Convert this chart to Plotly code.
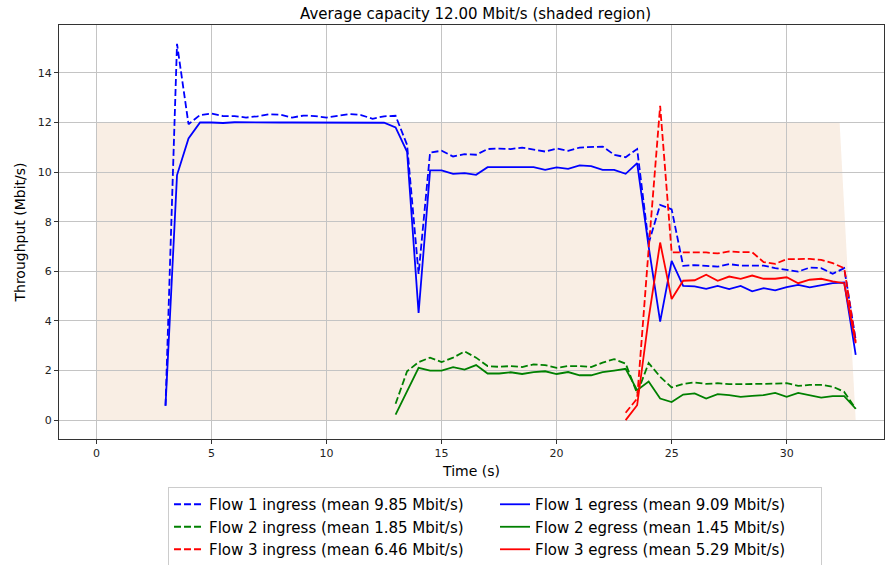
import plotly.graph_objects as go

# ---------------- data ----------------
f1_t = [3.0 + 0.5 * i for i in range(61)]
f1_in = [0.58, 15.17, 11.93, 12.30, 12.36, 12.26, 12.26, 12.20, 12.25, 12.33,
         12.31, 12.20, 12.28, 12.26, 12.20, 12.27, 12.34, 12.30, 12.15, 12.25,
         12.27, 11.10, 5.90, 10.79, 10.86, 10.63, 10.72, 10.70, 10.93, 10.95,
         10.93, 10.99, 10.90, 10.83, 10.95, 10.86, 10.99, 11.02, 11.03, 10.70,
         10.60, 10.93, 7.13, 8.68, 8.50, 6.22, 6.25, 6.22, 6.19, 6.29,
         6.23, 6.23, 6.23, 6.13, 6.06, 5.99, 6.15, 6.13, 5.90, 6.13,
         3.24]
f1_eg = [0.58, 9.88, 11.36, 12.00, 12.00, 11.98, 12.01, 12.00, 12.00, 12.00,
         12.00, 12.00, 12.00, 12.00, 12.00, 12.00, 12.00, 12.00, 12.00, 11.99,
         11.80, 10.82, 4.32, 10.07, 10.07, 9.93, 9.96, 9.89, 10.20, 10.19,
         10.19, 10.20, 10.20, 10.09, 10.19, 10.13, 10.27, 10.24, 10.09, 10.09,
         9.93, 10.36, 7.00, 3.97, 6.42, 5.41, 5.39, 5.29, 5.41, 5.28,
         5.41, 5.19, 5.32, 5.23, 5.36, 5.45, 5.35, 5.45, 5.52, 5.55,
         2.63]

f2_t = [13.0 + 0.5 * i for i in range(41)]
f2_in = [0.66, 1.97, 2.34, 2.52, 2.34, 2.52, 2.77, 2.52, 2.18, 2.15,
         2.18, 2.14, 2.25, 2.22, 2.11, 2.18, 2.18, 2.14, 2.32, 2.46,
         2.28, 1.08, 2.30, 1.75, 1.32, 1.46, 1.52, 1.46, 1.49, 1.45,
         1.45, 1.45, 1.47, 1.47, 1.49, 1.38, 1.42, 1.42, 1.35, 1.14,
         0.46]
f2_eg = [0.22, 1.14, 2.11, 2.00, 2.00, 2.14, 2.04, 2.22, 1.88, 1.88,
         1.93, 1.86, 1.94, 1.97, 1.86, 1.94, 1.81, 1.81, 1.94, 2.00,
         2.07, 1.21, 1.56, 0.87, 0.73, 1.03, 1.08, 0.87, 1.05, 1.01,
         0.94, 0.98, 1.01, 1.10, 0.94, 1.10, 1.01, 0.91, 0.97, 0.97,
         0.46]

f3_t = [23.0 + 0.5 * i for i in range(21)]
f3_in = [0.30, 0.87, 6.90, 12.67, 6.76, 6.76, 6.77, 6.76, 6.72, 6.80,
         6.77, 6.77, 6.37, 6.30, 6.49, 6.49, 6.50, 6.46, 6.33, 6.13,
         3.17]
f3_eg = [0.00, 0.60, 4.10, 7.16, 4.88, 5.62, 5.64, 5.86, 5.62, 5.79,
         5.70, 5.83, 5.70, 5.70, 5.76, 5.52, 5.66, 5.70, 5.59, 5.52,
         3.10]

cap_t = [0.0, 32.3, 33.0]
cap_v = [12.0, 12.0, 0.0]

names_in = ["Flow 1 ingress (mean 9.85 Mbit/s)",
            "Flow 2 ingress (mean 1.85 Mbit/s)",
            "Flow 3 ingress (mean 6.46 Mbit/s)"]
names_eg = ["Flow 1 egress (mean 9.09 Mbit/s)",
            "Flow 2 egress (mean 1.45 Mbit/s)",
            "Flow 3 egress (mean 5.29 Mbit/s)"]
colors = ["#0000ff", "#008000", "#ff0000"]

x_ticks = [0, 5, 10, 15, 20, 25, 30]
y_ticks = [0, 2, 4, 6, 8, 10, 12, 14]

FONT = "DejaVu Sans"

# ---------------- figure ----------------
fig = go.Figure()

series = [(f1_t, f1_in, f1_eg), (f2_t, f2_in, f2_eg), (f3_t, f3_in, f3_eg)]
for i, (t, vin, veg) in enumerate(series):
    fig.add_trace(go.Scatter(
        x=t, y=vin, mode="lines", name=names_in[i],
        line=dict(color=colors[i], width=1.8, dash="7px,3px"),
        legendrank=10 + 2 * i))
    fig.add_trace(go.Scatter(
        x=t, y=veg, mode="lines", name=names_eg[i],
        line=dict(color=colors[i], width=1.8),
        legendrank=11 + 2 * i))

# shaded capacity region (below gridlines)
path = "M {},0 ".format(cap_t[0])
for t, v in zip(cap_t, cap_v):
    path += "L {},{} ".format(t, v)
path += "Z"
fig.add_shape(type="path", path=path, xref="x", yref="y",
              fillcolor="#f9eee4", line=dict(width=0), layer="below")

axis_common = dict(
    showgrid=True, gridcolor="#c4c4c4", gridwidth=1,
    zeroline=False, showline=True, linecolor="#333333", linewidth=1,
    mirror=True, ticks="outside", ticklen=4, tickcolor="#333333",
    tickfont=dict(family=FONT, size=11, color="#222222"),
    automargin=False,
)

fig.update_xaxes(range=[-1.63, 34.23], tickvals=x_ticks,
                 title=dict(text="Time (s)", standoff=6,
                            font=dict(family=FONT, size=14, color="#000")),
                 **axis_common)
fig.update_yaxes(range=[-0.76, 15.93], tickvals=y_ticks,
                 title=dict(text="Throughput (Mbit/s)", standoff=8,
                            font=dict(family=FONT, size=14, color="#000")),
                 **axis_common)

fig.update_layout(
    width=885, height=565,
    margin=dict(l=59, r=1, t=25, b=126, autoexpand=False),
    paper_bgcolor="white", plot_bgcolor="white",
    font=dict(family=FONT, color="#000"),
    title=dict(text="Average capacity 12.00 Mbit/s (shaded region)",
               x=0.505, xref="paper", xanchor="center",
               y=1, yref="paper", yanchor="bottom", pad=dict(b=6),
               font=dict(family=FONT, size=15, color="#000")),
    legend=dict(orientation="h", x=0.5285, xanchor="center",
                y=-0.116, yanchor="top",
                entrywidth=281, entrywidthmode="pixels",
                bordercolor="#cccccc", borderwidth=1, bgcolor="white",
                font=dict(family=FONT, size=15, color="#000"),
                traceorder="normal"),
    showlegend=True,
)

fig.write_html(
    "out.html",
    config={"displayModeBar": False},
    post_script="document.body.style.margin='0';document.body.style.overflow='hidden';",
)
